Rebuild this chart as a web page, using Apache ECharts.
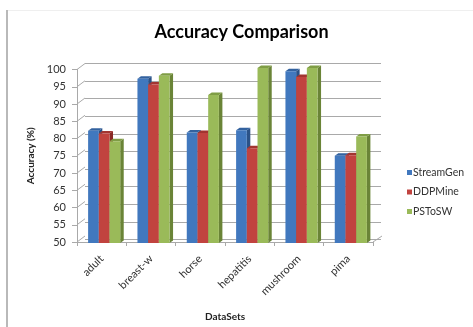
<!DOCTYPE html>
<html>
<head>
<meta charset="utf-8">
<script src="https://cdn.jsdelivr.net/npm/echarts@6/dist/echarts.min.js"></script>
<style>
  html, body { margin: 0; padding: 0; background: #ffffff; }
  #chart { width: 473px; height: 327px; }
</style>
</head>
<body>
<div id="chart"></div>
<script>
// Accuracy (%) of three mining methods on six datasets
const categories = ['adult', 'breast-w', 'horse', 'hepatitis', 'mushroom', 'pima'];
const streamGen = [82.1, 96.9, 81.6, 82.2, 99.1, 74.9];
const ddpMine   = [81.3, 95.3, 81.4, 77.1, 97.4, 75.1];
const psToSW    = [79.1, 97.8, 92.3, 100, 100, 80.4];
const yTicks    = [50, 55, 60, 65, 70, 75, 80, 85, 90, 95, 100];

const FONT = 'Lato, "Open Sans", sans-serif';
const GRID_COLOR = '#a9a9a9';
const DEPTH_X = 8, DEPTH_Y = -6;       // wall depth offset
const BAR_DX = 3.5, BAR_DY = -2.5;     // bar thickness offset

const seriesDefs = [
  { name: 'StreamGen', values: streamGen, front: '#4178be', side: '#2b5287', top: '#33629f' },
  { name: 'DDPMine',   values: ddpMine,   front: '#c1433f', side: '#892824', top: '#a23531' },
  { name: 'PSToSW',    values: psToSW,    front: '#9aba59', side: '#6a8437', top: '#7f9d45' }
];

// pseudo-3D column: front face, right side face, top face
function columnRenderer(slot) {
  return function (params, api) {
    const cat = api.value(0);
    const v = api.value(1);
    const topPt = api.coord([cat, v]);
    const basePt = api.coord([cat, 50]);
    const bw = api.size([1, 0])[0] * 0.217;
    const x0 = topPt[0] + (slot - 1.5) * bw;
    const yT = topPt[1], yB = basePt[1];
    const d = seriesDefs[slot];
    return {
      type: 'group',
      children: [
        { type: 'polygon', shape: { points: [[x0 + bw, yT], [x0 + bw + BAR_DX, yT + BAR_DY], [x0 + bw + BAR_DX, yB + BAR_DY], [x0 + bw, yB]] },
          style: { fill: d.side } },
        { type: 'polygon', shape: { points: [[x0, yT], [x0 + BAR_DX, yT + BAR_DY], [x0 + bw + BAR_DX, yT + BAR_DY], [x0 + bw, yT]] },
          style: { fill: d.top } },
        { type: 'rect', shape: { x: x0, y: yT, width: bw, height: yB - yT },
          style: { fill: d.front } }
      ]
    };
  };
}

// diagonal wall connectors from the front ticks to the back gridlines, plus floor edge
function wallRenderer(params, api) {
  const t = api.value(1);
  const cs = params.coordSys;
  const y = api.coord([0, t])[1];
  const children = [
    { type: 'line', shape: { x1: cs.x, y1: y, x2: cs.x + DEPTH_X, y2: y + DEPTH_Y },
      style: { stroke: GRID_COLOR, lineWidth: 1 } }
  ];
  if (t === yTicks[0]) {
    children.push({ type: 'line',
      shape: { x1: cs.x + cs.width, y1: y, x2: cs.x + cs.width + DEPTH_X + 1, y2: y + DEPTH_Y },
      style: { stroke: GRID_COLOR, lineWidth: 1 } });
  }
  return { type: 'group', children: children };
}

const chart = echarts.init(document.getElementById('chart'), null, { renderer: 'canvas' });

const series = [
  {
    type: 'custom', name: 'wall', xAxisIndex: 1, yAxisIndex: 1, z: 1, silent: true,
    data: yTicks.map(t => [0, t]), renderItem: wallRenderer
  }
];
seriesDefs.forEach((d, i) => {
  series.push({
    type: 'custom', name: d.name, xAxisIndex: 2, yAxisIndex: 2, z: 5 + i,
    itemStyle: { color: d.front },
    data: d.values.map((v, k) => [k, v]),
    encode: { x: 0, y: 1 },
    renderItem: columnRenderer(i)
  });
});

const option = {
  animation: false,
  backgroundColor: '#ffffff',
  graphic: [
    { type: 'line', shape: { x1: 7, y1: 10, x2: 7, y2: 327 }, style: { stroke: '#b9b9b9', lineWidth: 2 } },
    { type: 'line', shape: { x1: 8, y1: 10.5, x2: 473, y2: 10.5 }, style: { stroke: '#efefef', lineWidth: 1 } },
    { type: 'text', x: 241.5, y: 32,
      style: { text: 'Accuracy Comparison', font: 'bold 18px ' + FONT, fill: '#000000', align: 'center', verticalAlign: 'middle' } }
  ],
  legend: {
    orient: 'vertical', left: 402, top: 160.5,
    data: seriesDefs.map(d => d.name),
    icon: 'rect', itemWidth: 5, itemHeight: 5, itemGap: 5.5,
    textStyle: { fontFamily: FONT, fontSize: 10.5, color: '#333333', lineHeight: 14, padding: [0, 0, 0, -4] }
  },
  grid: [
    { left: 85, top: 63.5, width: 296, height: 176 },
    { left: 77, top: 69.5, width: 296, height: 176 },
    { left: 79.5, top: 68, width: 296, height: 175 }
  ],
  xAxis: [
    { type: 'category', gridIndex: 0, data: categories, show: false },
    {
      type: 'category', gridIndex: 1, data: categories,
      name: 'DataSets', nameLocation: 'middle', nameGap: 70,
      nameTextStyle: { fontFamily: FONT, fontSize: 10, fontWeight: 'bold', color: '#222222' },
      axisLine: { show: true, onZero: false, lineStyle: { color: GRID_COLOR } },
      axisTick: { show: true, alignWithLabel: false, length: 4, lineStyle: { color: GRID_COLOR } },
      axisLabel: { rotate: 45, margin: 15, interval: 0, fontFamily: FONT, fontSize: 11, color: '#333333' },
      splitLine: { show: false }
    },
    { type: 'category', gridIndex: 2, data: categories, show: false }
  ],
  yAxis: [
    {
      type: 'value', gridIndex: 0, min: 50, max: 100, interval: 5,
      axisLine: { show: false }, axisTick: { show: false }, axisLabel: { show: false },
      splitLine: { show: true, lineStyle: { color: GRID_COLOR, width: 1 } }
    },
    {
      type: 'value', gridIndex: 1, min: 50, max: 100, interval: 5,
      name: 'Accuracy (%)', nameLocation: 'middle', nameRotate: 90, nameGap: 40,
      nameTextStyle: { fontFamily: FONT, fontSize: 10, fontWeight: 'bold', color: '#222222' },
      axisLine: { show: true, lineStyle: { color: GRID_COLOR } },
      axisTick: { show: true, length: 5, lineStyle: { color: GRID_COLOR } },
      axisLabel: { margin: 11, fontFamily: FONT, fontSize: 11, color: '#333333',
        formatter: v => String(v) },
      splitLine: { show: false }
    },
    { type: 'value', gridIndex: 2, min: 50, max: 100, interval: 5, show: false, splitLine: { show: false } }
  ],
  series: series
};

chart.setOption(option);
</script>
</body>
</html>
